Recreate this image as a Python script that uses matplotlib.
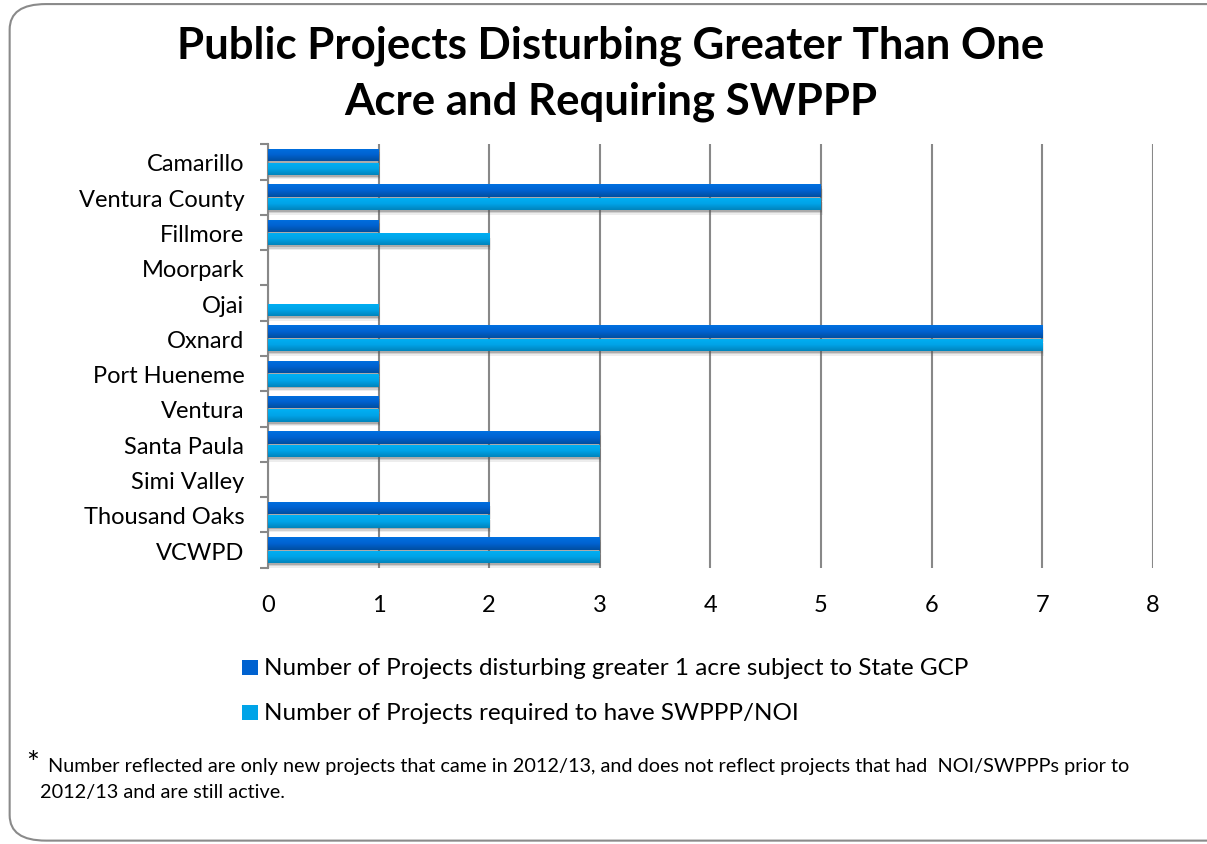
import matplotlib.pyplot as plt
import numpy as np
from matplotlib.patches import FancyBboxPatch
from matplotlib.colors import LinearSegmentedColormap

plt.rcParams['font.family'] = ['Lato', 'DejaVu Sans']

# data
cities = ['Camarillo', 'Ventura County', 'Fillmore', 'Moorpark', 'Ojai', 'Oxnard',
          'Port Hueneme', 'Ventura', 'Santa Paula', 'Simi Valley', 'Thousand Oaks', 'VCWPD']
gcp_projects = [1, 5, 1, 0, 0, 7, 1, 1, 3, 0, 2, 3]
swppp_projects = [1, 5, 2, 0, 1, 7, 1, 1, 3, 0, 2, 3]
series_names = ['Number of Projects disturbing greater 1 acre subject to State GCP',
                'Number of Projects required to have SWPPP/NOI']
xticks = [0, 1, 2, 3, 4, 5, 6, 7, 8]

fig = plt.figure(figsize=(12.07, 8.45), dpi=100)

# rounded frame round the whole slide
frame = FancyBboxPatch((0.008, 0.004), 1.2, 0.99, boxstyle='round,pad=0,rounding_size=0.03',
                       transform=fig.transFigure, facecolor='none', edgecolor='#8a8a8a',
                       linewidth=1.5, zorder=-5)
fig.patches.append(frame)

fig.text(0.506, 0.946, 'Public Projects Disturbing Greater Than One', ha='center', va='center',
         fontsize=31.5, fontweight='bold')
fig.text(0.506, 0.880, 'Acre and Requiring SWPPP', ha='center', va='center',
         fontsize=31.5, fontweight='bold')

ax = fig.add_axes([0.222, 0.327, 0.733, 0.501])
ax.set_facecolor('none')

y = np.arange(len(cities))
h = 0.35

dark_cmap = LinearSegmentedColormap.from_list('dk', ['#0070e0', '#0062d0', '#004ea0'])
light_cmap = LinearSegmentedColormap.from_list('lt', ['#00b0f4', '#00a4e8', '#0084bc'])
grad = np.linspace(0, 1, 50).reshape(-1, 1)

def gradient_bars(vals, offset, cmap, label):
    bars = ax.barh(y + offset, vals, height=h, color=cmap(0.4), label=label, zorder=3)
    for b in bars:
        w = b.get_width()
        if w <= 0:
            continue
        yb = b.get_y()
        # soft shadow under the bar
        for k, a in [(0.05, 0.3), (0.09, 0.18), (0.13, 0.1)]:
            ax.add_patch(plt.Rectangle((0.0, yb + k), w + k * 0.12, h, color='#555555',
                                       alpha=a, lw=0, zorder=2))
        im = ax.imshow(grad, cmap=cmap, aspect='auto', extent=(0, w, yb + h, yb),
                       zorder=4, interpolation='bilinear')
        im.set_clip_path(b)
    return bars

gradient_bars(gcp_projects, -0.19, dark_cmap, series_names[0])
gradient_bars(swppp_projects, 0.19, light_cmap, series_names[1])

ax.set_xlim(0, 8)
ax.set_ylim(len(cities) - 0.5, -0.5)
ax.set_xticks(xticks)
ax.set_xticklabels([str(t) for t in xticks], fontsize=17)
ax.set_yticks(y)
ax.set_yticklabels(cities, fontsize=17)
ax.tick_params(axis='y', length=0, pad=17)
ax.tick_params(axis='x', length=0, pad=19)
ax.set_yticks(np.arange(len(cities) + 1) - 0.5, minor=True)
ax.tick_params(axis='y', which='minor', length=6, width=1.5, color='#888888')
ax.grid(axis='x', color='#888888', linewidth=1.5, zorder=1)
ax.set_axisbelow(True)
for s in ['top', 'right', 'bottom']:
    ax.spines[s].set_visible(False)
ax.spines['left'].set_color('#888888')
ax.spines['left'].set_linewidth(1.5)

# legend entries drawn as two rows
for i, (name, cm) in enumerate([(series_names[0], dark_cmap), (series_names[1], light_cmap)]):
    yy = 0.209 - i * 0.053
    fig.patches.append(plt.Rectangle((0.2005, yy - 0.009), 0.013, 0.018, transform=fig.transFigure,
                                     facecolor=cm(0.5), edgecolor='none'))
    fig.text(0.219, yy, name, fontsize=17.5, va='center')

fig.text(0.022, 0.096, '*', fontsize=22, va='center')
fig.text(0.04, 0.093, 'Number reflected are only new projects that came in 2012/13, and does not reflect '
         'projects that had  NOI/SWPPPs prior to', fontsize=14.3, va='center')
fig.text(0.033, 0.062, '2012/13 and are still active.', fontsize=14.3, va='center')

fig.savefig('out.png', dpi=100)
